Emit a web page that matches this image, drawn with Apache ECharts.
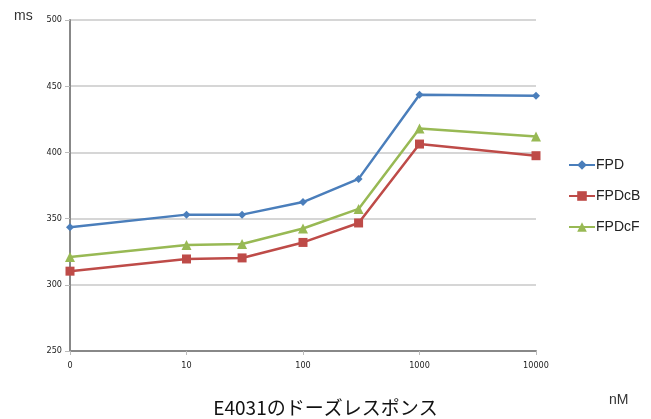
<!DOCTYPE html>
<html>
<head>
<meta charset="utf-8">
<script src="https://cdn.jsdelivr.net/npm/echarts@6/dist/echarts.min.js"></script>
<style>
html,body{margin:0;padding:0;background:#fff;}
#chart{width:651px;height:419px;}
</style>
</head>
<body>
<div id="chart"></div>
<script>
// Doses in nM; 0 is drawn one decade below 10
const doses = [0, 10, 30, 100, 300, 1000, 10000];
const tickLabels = ['0', '10', '100', '1000', '10000'];
const seriesNames = ['FPD', 'FPDcB', 'FPDcF'];
const fpd   = [343.5, 353, 353, 362.5, 380, 443.5, 442.8];
const fpdcB = [310.3, 319.5, 320.3, 332, 346.7, 406.3, 397.5];
const fpdcF = [321, 330, 330.8, 342.5, 357.3, 418, 412];

const colors = ['#4a7ebb', '#be4b48', '#98b954'];
const symbols = ['diamond', 'rect', 'triangle'];
const symbolSizes = [8, 9, 10];

function pos(d) { return d === 0 ? 0 : Math.log10(d); }

const chart = echarts.init(document.getElementById('chart'), null, {renderer: 'canvas'});
const values = [fpd, fpdcB, fpdcF];

chart.setOption({
  animation: false,
  backgroundColor: '#ffffff',
  grid: {left: 70, right: 115, top: 20, bottom: 68, containLabel: false},
  title: [
    {text: 'E4031のドーズレスポンス', left: 'center', top: 393,
     textStyle: {fontFamily: 'Noto Sans CJK JP', fontSize: 19, fontWeight: 'normal', color: '#111', lineHeight: 19}},
    {text: 'ms', left: 9, top: 4,
     textStyle: {fontFamily: 'Liberation Sans', fontSize: 14, fontWeight: 'normal', color: '#333'}},
    {text: 'nM', left: 604, top: 388,
     textStyle: {fontFamily: 'Liberation Sans', fontSize: 14, fontWeight: 'normal', color: '#333'}}
  ],
  legend: {
    orient: 'vertical', left: 563, top: 153, itemGap: 17,
    itemWidth: 26, itemHeight: 12,
    textStyle: {fontFamily: 'Liberation Sans', fontSize: 14, color: '#222', padding: [0, 0, 0, -4]},
    data: seriesNames
  },
  xAxis: {
    type: 'value', min: 0, max: 4, interval: 1,
    axisLine: {lineStyle: {color: '#888', width: 2}},
    axisTick: {show: true, length: 4, lineStyle: {color: '#bbb'}},
    splitLine: {show: false},
    axisLabel: {
      fontFamily: 'DejaVu Sans Condensed', fontSize: 9, color: '#222', margin: 10,
      formatter: v => tickLabels[Math.round(v)]
    }
  },
  yAxis: {
    type: 'value', min: 250, max: 500, interval: 50,
    axisLine: {show: true, lineStyle: {color: '#888', width: 2}},
    axisTick: {show: true, length: 5, lineStyle: {color: '#bbb'}},
    splitLine: {lineStyle: {color: '#c8c8c8', width: 1.5}},
    axisLabel: {fontFamily: 'DejaVu Sans Condensed', fontSize: 9, color: '#222', margin: 8}
  },
  series: seriesNames.map((name, i) => ({
    name: name,
    type: 'line',
    data: doses.map((d, j) => [pos(d), values[i][j]]),
    symbol: symbols[i],
    symbolSize: symbolSizes[i],
    showAllSymbol: true,
    itemStyle: {color: colors[i]},
    lineStyle: {color: colors[i], width: 2.5}
  }))
});
</script>
</body>
</html>
